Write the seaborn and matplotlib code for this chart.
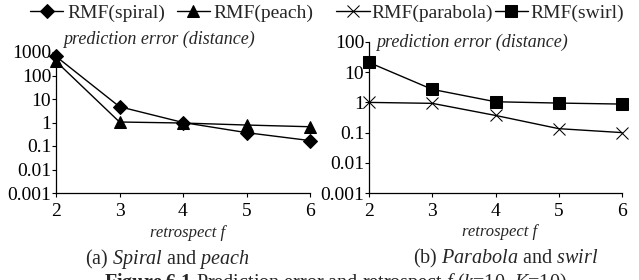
import numpy as np
import pandas as pd
import matplotlib
matplotlib.use("Agg")
import matplotlib.pyplot as plt
import seaborn as sns

# retrospect f values
RETRO = [2, 3, 4, 5, 6]

# panel (a)
SPIRAL = [650, 4.7, 1.0, 0.37, 0.17]
PEACH = [400, 1.05, 0.95, 0.78, 0.66]

# panel (b)
PARABOLA = [1.0, 0.93, 0.37, 0.135, 0.10]
SWIRL = [21, 2.7, 1.05, 0.95, 0.88]

YTICKS_A = [0.001, 0.01, 0.1, 1, 10, 100, 1000]
YTICKS_B = [0.001, 0.01, 0.1, 1, 10, 100]
YTICK_LABELS = {0.001: "0.001", 0.01: "0.01", 0.1: "0.1", 1: "1",
                10: "10", 100: "100", 1000: "1000"}

sns.set_style("ticks")
plt.rcParams["font.family"] = ["Liberation Serif", "DejaVu Serif"]
plt.rcParams["mathtext.fontset"] = "custom"
plt.rcParams["mathtext.rm"] = "Liberation Serif"
plt.rcParams["mathtext.it"] = "Liberation Serif:italic"
plt.rcParams["mathtext.bf"] = "Liberation Serif:bold"

W, H = 639, 280
fig = plt.figure(figsize=(W / 100, H / 100), dpi=100)


def px_axes(x0, x1, ytop, ybot):
    return fig.add_axes([x0 / W, 1 - ybot / H, (x1 - x0) / W, (ybot - ytop) / H])


def style_axes(ax, ymax, yticks):
    ax.set_yscale("log")
    ax.set_xlim(2, 6)
    ax.set_ylim(0.001, ymax)
    ax.set_xticks(RETRO)
    ax.set_xticklabels([str(v) for v in RETRO], fontsize=14)
    ax.set_yticks(yticks)
    ax.set_yticklabels([YTICK_LABELS[t] for t in yticks], fontsize=14)
    ax.yaxis.set_minor_locator(matplotlib.ticker.NullLocator())
    ax.tick_params(axis="both", direction="out", length=3, width=0.8,
                   colors="black")
    ax.tick_params(axis="y", pad=0.5)
    ax.tick_params(axis="x", pad=4)
    for side in ("top", "right"):
        ax.spines[side].set_visible(False)
    for side in ("left", "bottom"):
        ax.spines[side].set_linewidth(0.9)
        ax.spines[side].set_color("black")
    ax.set_xlabel("")
    ax.set_ylabel("")


def draw(ax, values, marker, label, ms):
    df = pd.DataFrame({"f": RETRO, "err": values})
    sns.lineplot(data=df, x="f", y="err", ax=ax, color="black", marker=marker,
                 markersize=ms, markeredgecolor="black", linewidth=1.0,
                 label=label, clip_on=False)


# (a) Spiral and peach
ax1 = px_axes(56, 310, 52, 193)
draw(ax1, SPIRAL, "D", "RMF(spiral)", 7)
draw(ax1, PEACH, "^", "RMF(peach)", 9)
style_axes(ax1, 1000, YTICKS_A)
ax1.legend(loc="center", bbox_to_anchor=(172 / W, 1 - 13 / H),
           bbox_transform=fig.transFigure, ncol=2, frameon=False,
           fontsize=14, handlelength=1.7, handletextpad=0.2,
           columnspacing=0.6, borderpad=0, numpoints=1)

# (b) Parabola and swirl
ax2 = px_axes(369, 622, 42, 193)
draw(ax2, PARABOLA, "x", "RMF(parabola)", 8)
draw(ax2, SWIRL, "s", "RMF(swirl)", 8)
style_axes(ax2, 100, YTICKS_B)
ax2.legend(loc="center", bbox_to_anchor=(480 / W, 1 - 13 / H),
           bbox_transform=fig.transFigure, ncol=2, frameon=False,
           fontsize=14, handlelength=1.7, handletextpad=0.1,
           columnspacing=0.1, borderpad=0, numpoints=1)

# in-plot y titles
fig.text(63 / W, 1 - 39 / H, "prediction error (distance)", fontsize=13,
         style="italic", va="center", ha="left")
fig.text(376 / W, 1 - 42 / H, "prediction error (distance)", fontsize=13,
         style="italic", va="center", ha="left")

# x labels
fig.text(188 / W, 1 - 233 / H, "retrospect f", fontsize=12, style="italic",
         ha="center", va="center")
fig.text(500 / W, 1 - 232 / H, "retrospect f", fontsize=12, style="italic",
         ha="center", va="center")

# sub-captions
fig.text(167 / W, 1 - 259 / H, r"(a) $\mathit{Spiral}$ and $\mathit{peach}$",
         fontsize=14.5, ha="center", va="center")
fig.text(506 / W, 1 - 258 / H, r"(b) $\mathit{Parabola}$ and $\mathit{swirl}$",
         fontsize=14.5, ha="center", va="center")

# figure caption, cut off by the bottom edge as in the source
fig.text(335 / W, 1 - 271 / H,
         r"$\mathbf{Figure\ 6.1}$ Prediction error and retrospect $\mathit{f}$ ($\mathit{k}$=10, $\mathit{K}$=10)",
         fontsize=14.5, ha="center", va="top")

fig.savefig("out.png", dpi=100)
